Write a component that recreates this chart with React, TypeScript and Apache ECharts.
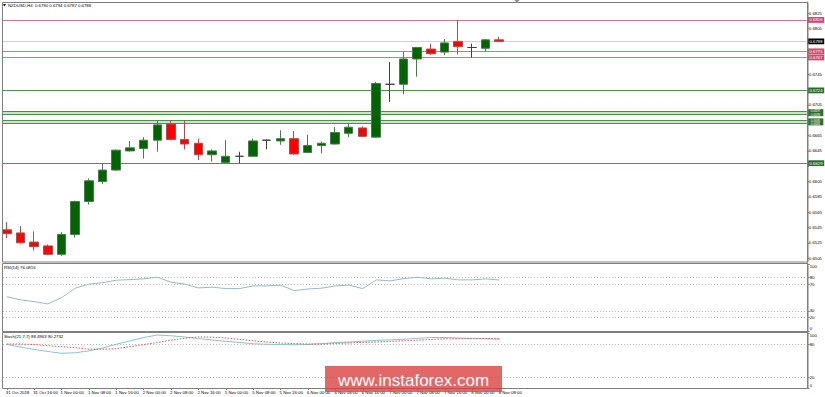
import { useEffect, useRef } from "react";
import * as echarts from "echarts";

// ---- data ----
const times = [
  "31 Oct 2018", "31 Oct 12:00", "31 Oct 16:00", "31 Oct 20:00",
  "1 Nov 00:00", "1 Nov 04:00", "1 Nov 08:00", "1 Nov 12:00", "1 Nov 16:00", "1 Nov 20:00",
  "2 Nov 00:00", "2 Nov 04:00", "2 Nov 08:00", "2 Nov 12:00", "2 Nov 16:00", "2 Nov 20:00",
  "5 Nov 00:00", "5 Nov 04:00", "5 Nov 08:00", "5 Nov 12:00", "5 Nov 16:00", "5 Nov 20:00",
  "6 Nov 00:00", "6 Nov 04:00", "6 Nov 08:00", "6 Nov 12:00", "6 Nov 16:00", "6 Nov 20:00",
  "7 Nov 00:00", "7 Nov 04:00", "7 Nov 08:00", "7 Nov 12:00", "7 Nov 16:00", "7 Nov 20:00",
  "8 Nov 00:00", "8 Nov 04:00", "8 Nov 08:00",
];
const opens = [
  0.6542, 0.6538, 0.6526, 0.6521, 0.6510, 0.6536, 0.6579, 0.6605, 0.6620, 0.6645,
  0.6648, 0.6659, 0.6680, 0.6660, 0.6655, 0.6640, 0.6630, 0.6638, 0.6638, 0.6659,
  0.6658, 0.6661, 0.6643, 0.6652, 0.6654, 0.6668, 0.6675, 0.6663, 0.6732, 0.6732,
  0.6765, 0.6778, 0.6774, 0.6788, 0.6780, 0.6779, 0.6790,
];
const closes = [
  0.6537, 0.6525, 0.6520, 0.6510, 0.6536, 0.6579, 0.6606, 0.6620, 0.6646, 0.6649,
  0.6659, 0.6679, 0.6660, 0.6654, 0.6640, 0.6645, 0.6638, 0.6638, 0.6658, 0.6659,
  0.6661, 0.6641, 0.6652, 0.6655, 0.6669, 0.6676, 0.6664, 0.6733, 0.6732, 0.6765,
  0.6780, 0.6772, 0.6786, 0.6781, 0.6780, 0.6790, 0.6788,
];
const lows = [
  0.6531, 0.6524, 0.6515, 0.6509, 0.6508, 0.6532, 0.6575, 0.6602, 0.6619, 0.6644,
  0.6635, 0.6644, 0.6659, 0.6647, 0.6633, 0.6631, 0.6629, 0.6629, 0.6637, 0.6647,
  0.6653, 0.6640, 0.6643, 0.6642, 0.6653, 0.6663, 0.6663, 0.6662, 0.6709, 0.6719,
  0.6742, 0.6770, 0.6770, 0.6771, 0.6767, 0.6775, 0.6787,
];
const highs = [
  0.6552, 0.6547, 0.6540, 0.6523, 0.6539, 0.6580, 0.6609, 0.6629, 0.6647, 0.6658,
  0.6663, 0.6685, 0.6685, 0.6685, 0.6661, 0.6647, 0.6659, 0.6644, 0.6661, 0.6660,
  0.6672, 0.6671, 0.6666, 0.6657, 0.6676, 0.6681, 0.6677, 0.6735, 0.6761, 0.6774,
  0.6780, 0.6785, 0.6791, 0.6816, 0.6785, 0.6791, 0.6794,
];
const rsi = [
  51.3, 46.4, 43.9, 40.4, 49.9, 63.9, 69.9, 72.2, 75.8, 76.7,
  77.8, 80.3, 72.8, 69.9, 64.3, 65.4, 63.3, 63.3, 67.3, 67.3,
  68.4, 60.3, 62.8, 63.9, 67.3, 68.4, 63.3, 76.3, 74.8, 78.2,
  80.3, 77.8, 78.8, 76.3, 76.3, 77.8, 76.08,
];
const stochMain = [
  79.1, 74.5, 70.0, 66.4, 63.1, 64.0, 67.6, 72.7, 79.5, 85.8,
  91.8, 96.4, 94.9, 92.7, 90.0, 87.3, 84.9, 82.7, 80.4, 79.5,
  79.1, 78.5, 79.1, 80.7, 82.4, 83.6, 85.1, 86.4, 87.6, 88.7,
  90.2, 91.8, 91.8, 90.9, 90.2, 89.5, 88.5,
];
const stochSignal = [
  80.0, 80.0, 79.1, 76.7, 75.1, 73.3, 70.5, 70.4, 71.5, 75.1,
  78.9, 82.7, 86.9, 90.5, 92.9, 92.4, 90.9, 88.5, 85.8, 83.6,
  81.8, 80.7, 80.0, 79.6, 80.9, 82.0, 82.9, 83.6, 84.7, 85.8,
  86.9, 88.2, 89.5, 89.5, 89.8, 90.0, 90.27,
];
// tick marks on the price scale; labels only where not hidden by level tags
const priceTicks = [
  0.6505, 0.6525, 0.6545, 0.6565, 0.6585, 0.6605, 0.6625, 0.6645, 0.6665,
  0.6685, 0.6705, 0.6725, 0.6745, 0.6765, 0.6785, 0.6805, 0.6825,
];
const priceTickLabels = [
  0.6505, 0.6525, 0.6545, 0.6565, 0.6585, 0.6605, 0.6645, 0.6665,
  0.6705, 0.6745, 0.6805, 0.6825,
];
const rsiTicks = [0, 20, 30, 70, 80, 100];
const rsiLevels = [20, 30, 70, 80];
const stochTicks = [0, 20, 80, 100];
const stochLevels = [20, 80];
const resistLevels = [0.6816, 0.6775, 0.6767];
const supportLevels = [0.6724, 0.6629];
const supportZones = [
  [0.6697, 0.6693],
  [0.6685, 0.6681],
];
const lastPrice = 0.6788;
const titleText = "NZDUSD,H4  0.6790 0.6794 0.6787 0.6788";
const rsiText = "RSI(14) 76.0816";
const stochText = "Stoch(21,7,7) 88.4963 90.2732";
const PAD_COUNT = 22;

// ---- styles ----
const FONT = "'Liberation Sans', Arial, sans-serif";
const FS = 4.3;
const RED_LINE = "#c47c8e";
const RED_LABEL = "#d6456a";
const GREEN_LINE = "#4e8e4e";
const GREEN_LABEL = "#2a6e2a";
const ZONE_FILL = "#c9e4c9";
const FRAME = "#7f7f7f";

function tagLabel(text: string, bg: string, offsetY = 0, fs = FS, lh = 5, padX = 1.6) {
  return {
    show: true,
    position: "end",
    distance: 1,
    offset: [0, offsetY],
    formatter: () => text,
    backgroundColor: bg,
    color: "#ffffff",
    fontSize: fs,
    fontFamily: FONT,
    padding: [0.6, padX, 0.2, padX],
    lineHeight: lh,
  };
}

function levelLine(v: number, lineColor: string, labelBg: string) {
  return {
    yAxis: v,
    lineStyle: { color: lineColor, width: 1, type: "solid" },
    label: tagLabel(v.toFixed(4), labelBg),
  };
}

// label formatter that nudges the 0 / 100 labels inward, like MT4
function edgeLabel(v: number) {
  if (v === 100) return "{top|100}";
  if (v === 0) return "{bot|0}";
  return String(v);
}
const edgeRich = {
  top: { fontSize: FS, fontFamily: FONT, color: "#000", padding: [5, 0, 0, 0] },
  bot: { fontSize: FS, fontFamily: FONT, color: "#000", padding: [0, 0, 5, 0] },
};

export default function App() {
  const ref = useRef<HTMLDivElement>(null);

  useEffect(() => {
    if (!ref.current) return;
    const chart = echarts.init(ref.current, undefined, { renderer: "svg" });

    const cats = [...times, ...Array.from({ length: PAD_COUNT }, (_, i) => "pad" + i)];
    const showIdx = (idx: number) => idx < times.length && idx % 2 === 0;
    const GL = -3.6;
    const GW = 811.25;

    const candleData = opens.map((o, i) => [o, closes[i], lows[i], highs[i]]);

    const zoneLines: any[] = [];
    supportZones.forEach(([a, b]) => {
      zoneLines.push({
        yAxis: a,
        lineStyle: { color: GREEN_LINE, width: 1, type: "solid" },
        label: tagLabel(a.toFixed(4) + "\n" + b.toFixed(4), GREEN_LABEL, 1.6, 3.1, 3.1, 3),
      });
      zoneLines.push({
        yAxis: b,
        lineStyle: { color: GREEN_LINE, width: 1, type: "solid" },
        label: { show: false },
      });
    });

    const markLines = [
      ...resistLevels.map((v) => levelLine(v, RED_LINE, RED_LABEL)),
      ...supportLevels.map((v) => levelLine(v, GREEN_LINE, GREEN_LABEL)),
      ...zoneLines,
      levelLine(lastPrice, "#cfcfcf", "#000000"),
    ];

    const dotted = (vals: number[]) => ({
      silent: true,
      symbol: ["none", "none"],
      precision: 4,
      z: 1,
      label: { show: false },
      lineStyle: { color: "#b8b8b8", type: [1, 2], width: 1 },
      data: vals.map((v) => ({ yAxis: v })),
    });

    const smallAxisLabel = {
      fontSize: FS,
      fontFamily: FONT,
      color: "#000",
      margin: 2,
    };

    const option: any = {
      animation: false,
      backgroundColor: "#ffffff",
      grid: [
        { left: GL, top: 2, width: GW, height: 260 },
        { left: GL, top: 264, width: GW, height: 67 },
        { left: GL, top: 333, width: GW, height: 55 },
      ],
      xAxis: [0, 1, 2].map((g) => ({
        type: "category",
        gridIndex: g,
        data: cats,
        boundaryGap: true,
        show: g === 2,
        axisLine: { show: false },
        axisTick: {
          show: g === 2,
          alignWithLabel: true,
          interval: (idx: number) => showIdx(idx),
          length: 2,
          lineStyle: { color: FRAME },
        },
        axisLabel: {
          show: g === 2,
          interval: (idx: number) => showIdx(idx),
          fontSize: FS,
          fontFamily: FONT,
          color: "#000",
          align: "left",
          margin: 2,
          padding: [0, 0, 0, -1],
        },
        splitLine: { show: false },
      })),
      yAxis: [
        {
          type: "value",
          gridIndex: 0,
          position: "right",
          min: 0.65,
          max: 0.68394,
          splitLine: { show: false },
          axisLine: { show: true, lineStyle: { color: FRAME } },
          axisTick: { show: true, length: 2, customValues: priceTicks, lineStyle: { color: FRAME } },
          axisLabel: { ...smallAxisLabel, customValues: priceTickLabels, formatter: (v: number) => v.toFixed(4) },
        },
        {
          type: "value",
          gridIndex: 1,
          position: "right",
          min: 0,
          max: 100,
          splitLine: { show: false },
          axisLine: { show: true, lineStyle: { color: FRAME } },
          axisTick: { show: true, length: 2, customValues: rsiTicks, lineStyle: { color: FRAME } },
          axisLabel: { ...smallAxisLabel, customValues: rsiTicks, formatter: edgeLabel, rich: edgeRich },
        },
        {
          type: "value",
          gridIndex: 2,
          position: "right",
          min: 0,
          max: 100,
          splitLine: { show: false },
          axisLine: { show: true, lineStyle: { color: FRAME } },
          axisTick: { show: true, length: 2, customValues: stochTicks, lineStyle: { color: FRAME } },
          axisLabel: { ...smallAxisLabel, customValues: stochTicks, formatter: edgeLabel, rich: edgeRich },
        },
      ],
      series: [
        {
          type: "candlestick",
          xAxisIndex: 0,
          yAxisIndex: 0,
          data: candleData,
          barWidth: 9,
          itemStyle: {
            color: "#006400",
            color0: "#ff0000",
            borderColor: "#4a7a4a",
            borderColor0: "#a85050",
            borderColorDoji: "#404040",
            borderWidth: 1,
          },
          markArea: {
            silent: true,
            precision: 4,
            z: 0.9,
            itemStyle: { color: ZONE_FILL },
            data: supportZones.map((z) => [{ yAxis: z[0] }, { yAxis: z[1] }]),
          },
          markLine: {
            silent: true,
            symbol: ["none", "none"],
            precision: 4,
            z: 1,
            data: markLines,
          },
        },
        {
          type: "line",
          xAxisIndex: 1,
          yAxisIndex: 1,
          data: rsi,
          showSymbol: false,
          lineStyle: { color: "#97b9cc", width: 1 },
          markLine: dotted(rsiLevels),
        },
        {
          type: "line",
          xAxisIndex: 2,
          yAxisIndex: 2,
          data: stochMain,
          showSymbol: false,
          lineStyle: { color: "#8cc3c9", width: 1 },
          markLine: dotted(stochLevels),
        },
        {
          type: "line",
          xAxisIndex: 2,
          yAxisIndex: 2,
          data: stochSignal,
          showSymbol: false,
          lineStyle: { color: "#d45a5a", width: 1, type: [1.5, 1.5] },
        },
      ],
      graphic: [
        { type: "rect", z: 9, shape: { x: 0, y: 0, width: 2, height: 397 }, style: { fill: "#ffffff" } },
        { type: "rect", z: 10, shape: { x: 2.5, y: 2.5, width: 805.5, height: 259.5 }, style: { fill: "none", stroke: FRAME, lineWidth: 1 } },
        { type: "rect", z: 10, shape: { x: 2.5, y: 263.5, width: 805.5, height: 68 }, style: { fill: "none", stroke: FRAME, lineWidth: 1 } },
        { type: "rect", z: 10, shape: { x: 2.5, y: 332.5, width: 805.5, height: 56 }, style: { fill: "none", stroke: FRAME, lineWidth: 1 } },
        { type: "polygon", z: 11, shape: { points: [[3, 4], [6, 4], [4.5, 6.5]] }, style: { fill: "#000" } },
        { type: "polygon", z: 11, shape: { points: [[514.5, 0], [519.5, 0], [517, 3]] }, style: { fill: "#909090" } },
        {
          type: "text", z: 11, x: 8, y: 5,
          style: { text: titleText, fontSize: FS, fontFamily: FONT, fill: "#000", verticalAlign: "middle", textVerticalAlign: "middle" },
        },
        {
          type: "text", z: 11, x: 4, y: 267.5,
          style: { text: rsiText, fontSize: FS, fontFamily: FONT, fill: "#000", verticalAlign: "middle", textVerticalAlign: "middle" },
        },
        {
          type: "text", z: 11, x: 4, y: 336.5,
          style: { text: stochText, fontSize: FS, fontFamily: FONT, fill: "#000", verticalAlign: "middle", textVerticalAlign: "middle" },
        },
        {
          type: "rect", z: 20, shape: { x: 325, y: 366, width: 177, height: 26 },
          style: { fill: "rgba(218, 62, 62, 0.78)" },
        },
        {
          type: "text", z: 21, x: 413.5, y: 380,
          style: {
            text: "www.instaforex.com", fontSize: 17, fontFamily: FONT, fill: "#ffffff",
            align: "center", textAlign: "center", verticalAlign: "middle", textVerticalAlign: "middle",
          },
        },
      ],
    };

    chart.setOption(option);
    return () => chart.dispose();
  }, []);

  return (
    <div
      ref={ref}
      style={{ position: "fixed", left: 0, top: 0, width: 825, height: 397, background: "#fff" }}
    />
  );
}
